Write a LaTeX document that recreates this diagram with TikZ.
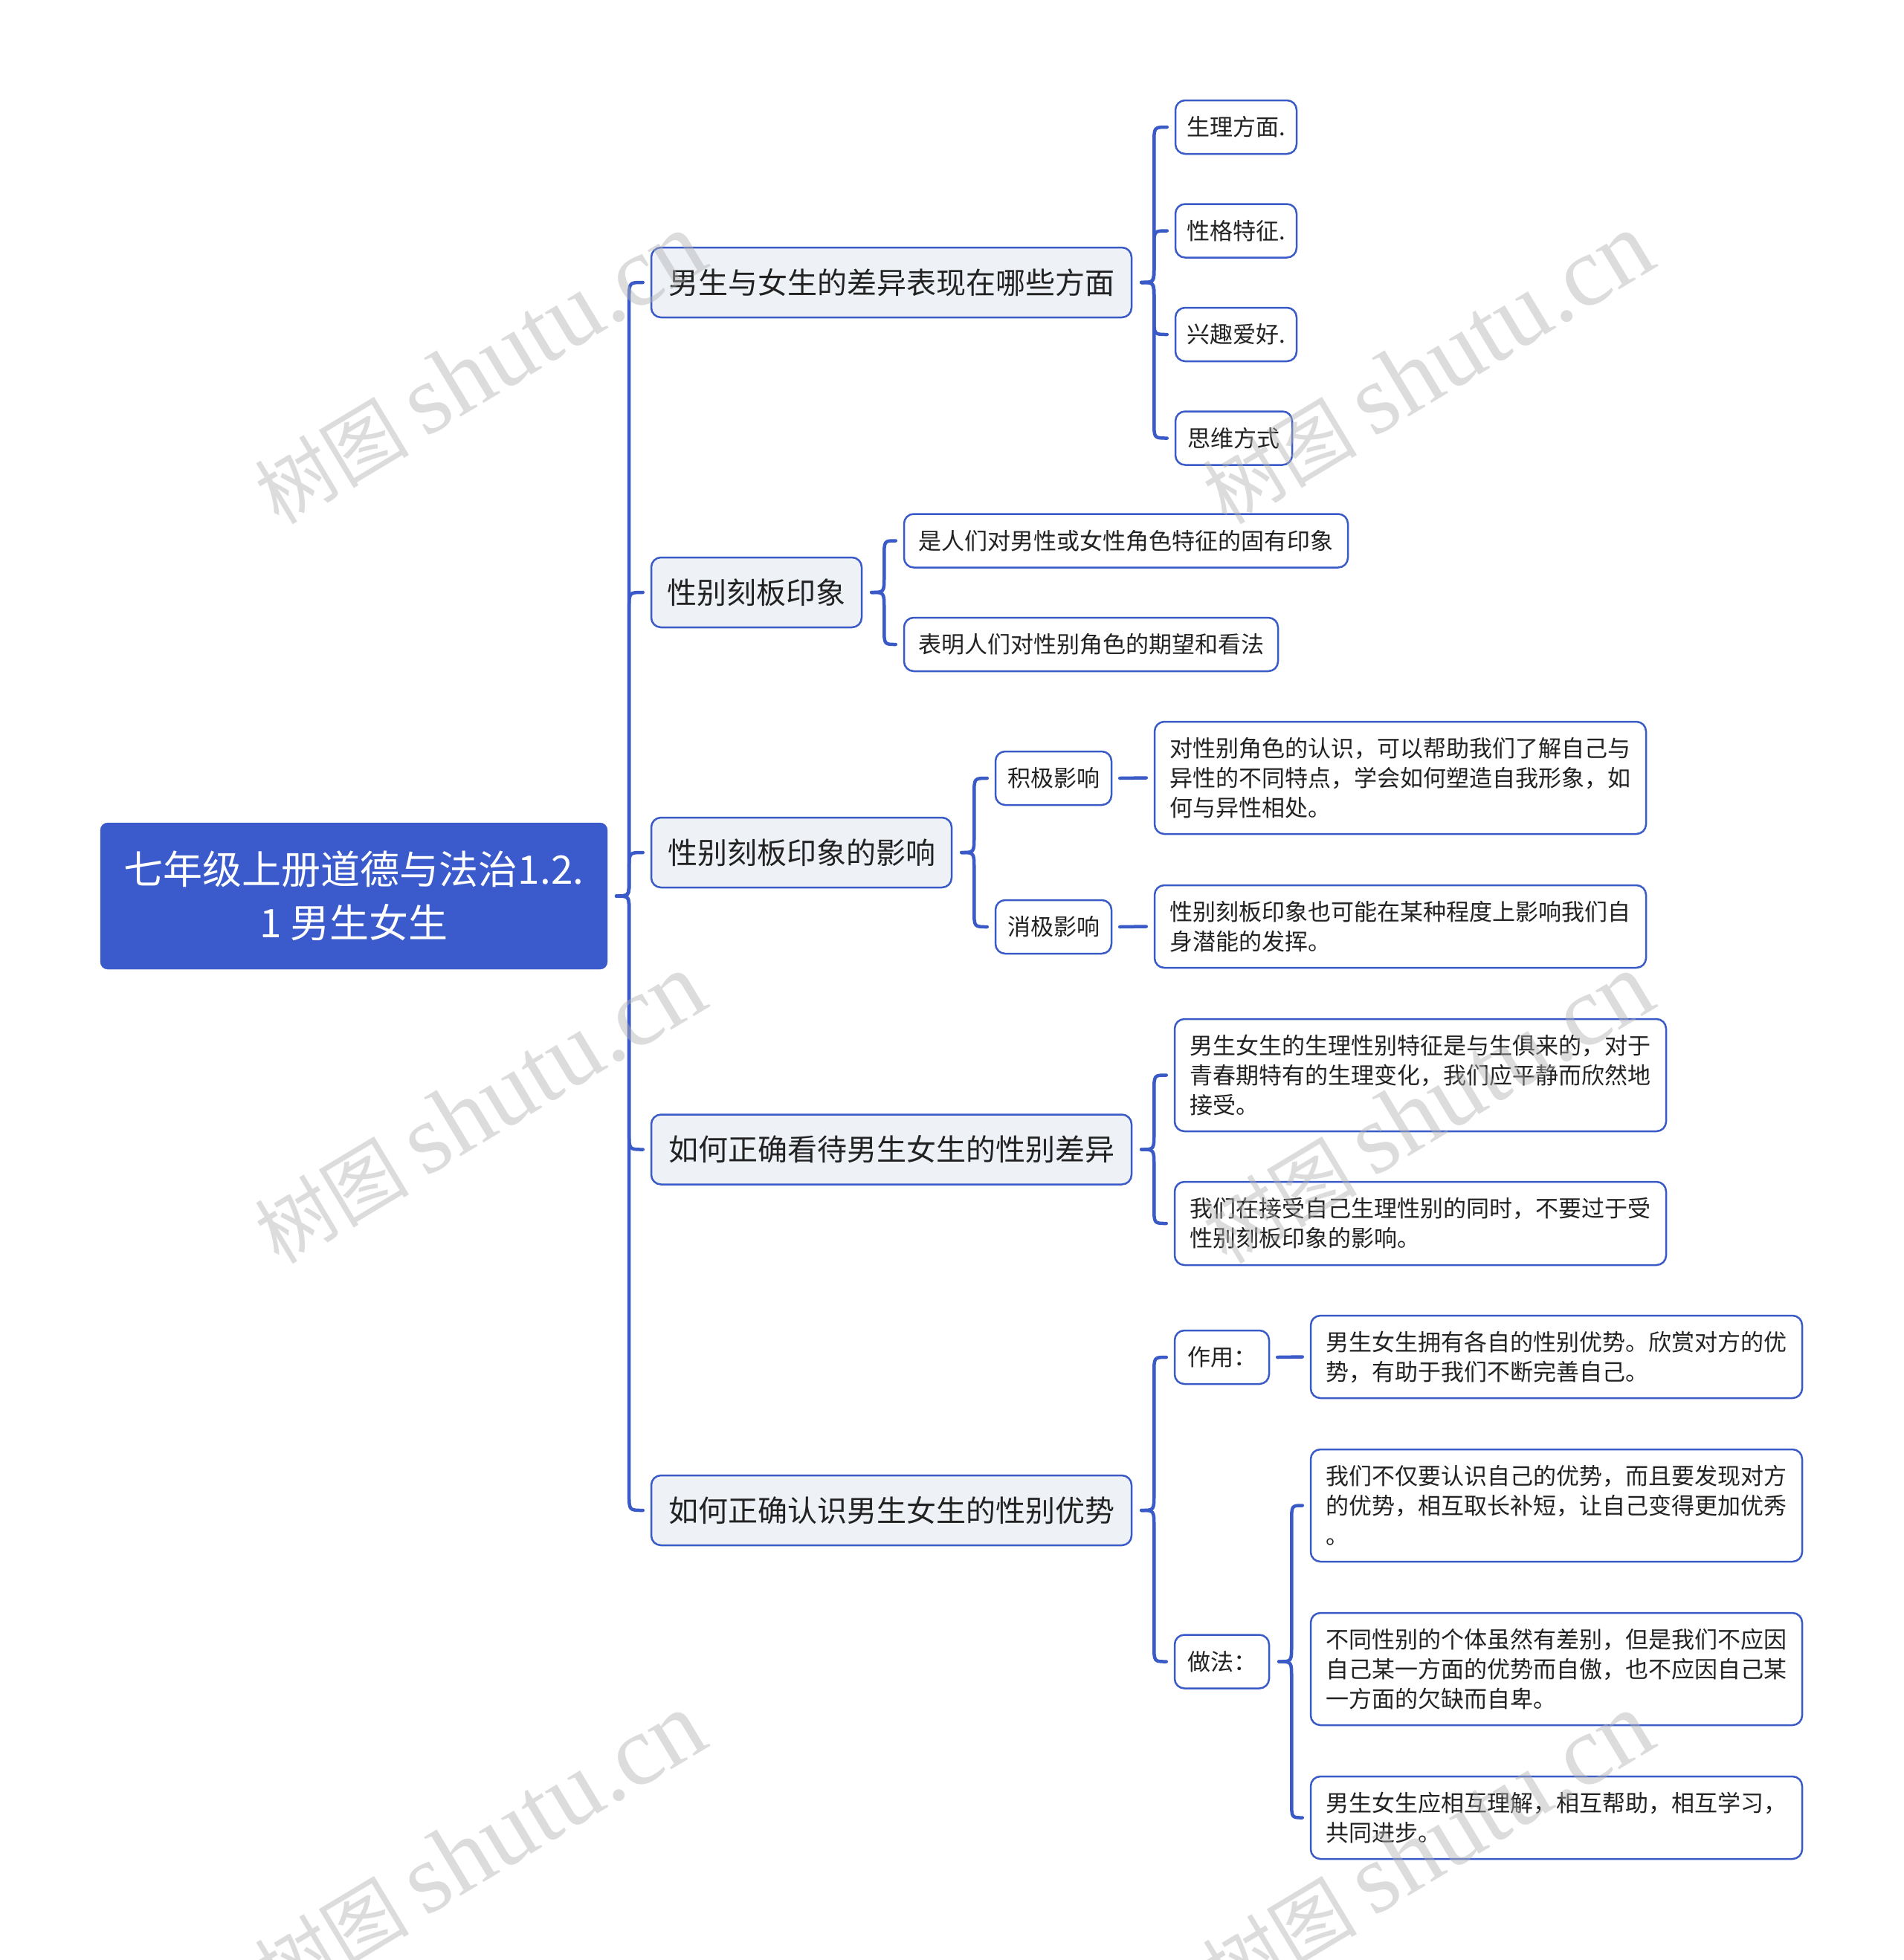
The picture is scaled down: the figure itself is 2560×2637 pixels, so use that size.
\documentclass[tikz,border=0pt]{standalone}
\usepackage{fontspec}
\setmainfont{Noto Sans CJK SC}
\newfontfamily\wmserif{Liberation Serif}
\usetikzlibrary{calc}
\definecolor{bblue}{HTML}{3A5BC7}
\definecolor{rootfill}{HTML}{3B5BCC}
\definecolor{lonefill}{HTML}{EEF1F6}
\definecolor{txt}{HTML}{222222}
\tikzset{
 rootbox/.style={fill=rootfill, draw=rootfill, rounded corners=10pt, text=white,
   font=\fontsize{53}{72}\selectfont, align=center, inner sep=0pt,
   minimum width=682pt, minimum height=197pt},
 lonebox/.style={fill=lonefill, draw=bblue, line width=2.5pt, rounded corners=13pt,
   text=txt, font=\fontsize{40}{50}\selectfont, inner sep=0pt, minimum height=94pt},
 leaf/.style={fill=white, draw=bblue, line width=2.5pt, rounded corners=13pt,
   text=txt, font=\fontsize{31}{40}\selectfont, align=left, inner sep=0pt,
   minimum height=72pt},
 conn/.style={draw=bblue, line width=4.5pt, line cap=round, line join=round},
 wm/.style={text=black!30, opacity=0.45, rotate=31, anchor=base west, inner sep=0pt,
   font=\fontsize{104}{104}\selectfont}
}
\newcommand\bconn[2]{%
 \draw[conn] let \p1=(#1.east), \p2=(#2.west), \n1={sign(\y2-\y1)} in
  ({\x1+12pt},{\y1}) .. controls ({\x1+29pt},{\y1}) .. ({\x1+29pt},{\y1+\n1*22pt})
  -- ({\x1+29pt},{\y2-\n1*22pt}) .. controls ({\x1+29pt},{\y2}) .. ({\x2-10pt},{\y2});}
\newcommand\sconn[2]{%
 \draw[conn] ([xshift=10pt]#1.east) -- ([xshift=-10pt]#2.west);}
\begin{document}
\begin{tikzpicture}[x=1pt,y=-1pt]
\useasboundingbox (0,0) rectangle (2560,2637);
\fill[white] (0,0) rectangle (2560,2637);
% root
\node[rootbox] (R) at (476,1205.5) {七年级上册道德与法治1.2.\\1 男生女生};
% level 1
\node[lonebox, minimum width=646pt] (A) at (1199,380) {男生与女生的差异表现在哪些方面};
\node[lonebox, minimum width=283pt] (B) at (1017.5,797) {性别刻板印象};
\node[lonebox, minimum width=404pt] (C) at (1078,1147) {性别刻板印象的影响};
\node[lonebox, minimum width=646pt] (D) at (1199,1546.5) {如何正确看待男生女生的性别差异};
\node[lonebox, minimum width=646pt] (E) at (1199,2032) {如何正确认识男生女生的性别优势};
% A children
\node[leaf, minimum width=163pt] (A1) at (1662.5,171) {生理方面.};
\node[leaf, minimum width=163pt] (A2) at (1662.5,310.5) {性格特征.};
\node[leaf, minimum width=163pt] (A3) at (1662.5,450) {兴趣爱好.};
\node[leaf, minimum width=157pt] (A4) at (1659.5,589.5) {思维方式};
% B children
\node[leaf, minimum width=597pt] (B1) at (1514.5,727.5) {是人们对男性或女性角色特征的固有印象};
\node[leaf, minimum width=503pt] (B2) at (1467.5,867) {表明人们对性别角色的期望和看法};
% C children
\node[leaf, minimum width=156pt] (C1) at (1417,1047) {积极影响};
\node[leaf, minimum width=156pt] (C2) at (1417,1247) {消极影响};
\node[leaf, minimum width=661pt, minimum height=151pt] (C1a) at (1883.5,1046.5)
 {对性别角色的认识，可以帮助我们了解自己与\\异性的不同特点，学会如何塑造自我形象，如\\何与异性相处。};
\node[leaf, minimum width=661pt, minimum height=111pt] (C2a) at (1883.5,1246.5)
 {性别刻板印象也可能在某种程度上影响我们自\\身潜能的发挥。};
% D children
\node[leaf, minimum width=661pt, minimum height=151pt] (D1) at (1910.5,1446.5)
 {男生女生的生理性别特征是与生俱来的，对于\\青春期特有的生理变化，我们应平静而欣然地\\接受。};
\node[leaf, minimum width=661pt, minimum height=112pt] (D2) at (1910.5,1646)
 {我们在接受自己生理性别的同时，不要过于受\\性别刻板印象的影响。};
% E children
\node[leaf, minimum width=127pt] (E1) at (1643.5,1826) {作用：};
\node[leaf, minimum width=127pt] (E2) at (1643.5,2235.5) {做法：};
\node[leaf, minimum width=661pt, minimum height=111pt] (E1a) at (2093.5,1825.5)
 {男生女生拥有各自的性别优势。欣赏对方的优\\势，有助于我们不断完善自己。};
\node[leaf, minimum width=661pt, minimum height=151pt] (E2a) at (2093.5,2025.5)
 {我们不仅要认识自己的优势，而且要发现对方\\的优势，相互取长补短，让自己变得更加优秀\\。};
\node[leaf, minimum width=661pt, minimum height=151pt] (E2b) at (2093.5,2245.5)
 {不同性别的个体虽然有差别，但是我们不应因\\自己某一方面的优势而自傲，也不应因自己某\\一方面的欠缺而自卑。};
\node[leaf, minimum width=661pt, minimum height=111pt] (E2c) at (2093.5,2445.5)
 {男生女生应相互理解，相互帮助，相互学习，\\共同进步。};
% connectors
\foreach \c in {A,B,C,D,E} {\bconn{R}{\c}}
\foreach \c in {A1,A2,A3,A4} {\bconn{A}{\c}}
\foreach \c in {B1,B2} {\bconn{B}{\c}}
\foreach \c in {C1,C2} {\bconn{C}{\c}}
\foreach \c in {D1,D2} {\bconn{D}{\c}}
\foreach \c in {E1,E2} {\bconn{E}{\c}}
\foreach \c in {E2a,E2c} {\bconn{E2}{\c}}
\sconn{C1}{C1a}
\sconn{C2}{C2a}
\sconn{E1}{E1a}
% watermarks
\foreach \i/\p in {1/{(375,708)},2/{(1650,708)},3/{(375,1703)},4/{(1650,1703)},5/{(375,2698)},6/{(1650,2698)}} {
 \node[wm] (wm\i) at \p {树图\hspace{22pt}{\wmserif\fontsize{134}{134}\selectfont shutu.cn}};
}
\end{tikzpicture}
\end{document}
